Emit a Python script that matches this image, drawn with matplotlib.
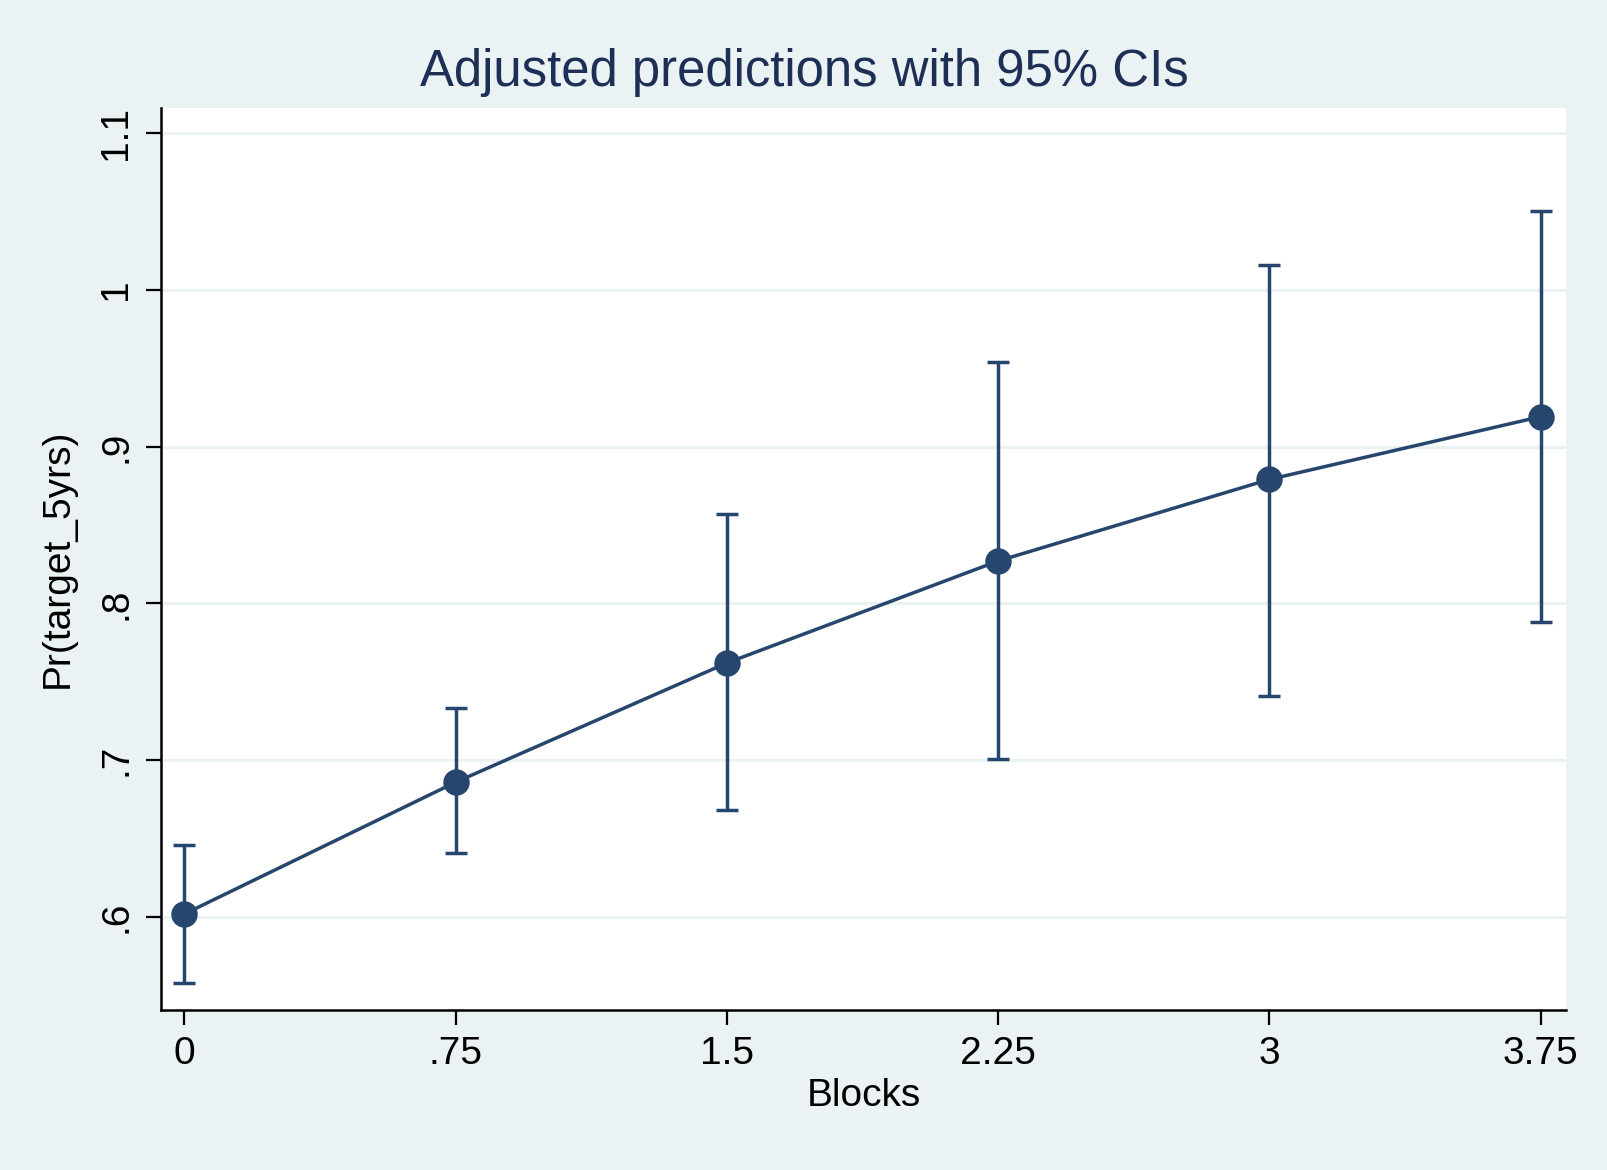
import matplotlib
matplotlib.use('Agg')
import matplotlib.pyplot as plt

# valores (margins do Stata)
blocks = [0, 0.75, 1.5, 2.25, 3, 3.75]
pred = [0.602, 0.686, 0.762, 0.827, 0.879, 0.919]
ci_low = [0.558, 0.641, 0.668, 0.701, 0.741, 0.788]
ci_high = [0.646, 0.733, 0.857, 0.954, 1.016, 1.050]

xticks = [0, 0.75, 1.5, 2.25, 3, 3.75]
xtick_labels = ['0', '.75', '1.5', '2.25', '3', '3.75']
yticks = [0.6, 0.7, 0.8, 0.9, 1.0, 1.1]
ytick_labels = ['.6', '.7', '.8', '.9', '1', '1.1']

BG = '#EAF2F3'
NAVY = '#26466D'
TITLE = '#1E2F55'

plt.rcParams['font.family'] = ['Liberation Sans', 'DejaVu Sans']

fig = plt.figure(figsize=(8.04, 5.85), dpi=200, facecolor=BG)
ax = fig.add_axes([0.100, 0.137, 0.874, 0.771])
ax.set_facecolor('white')

for y in yticks:
    ax.axhline(y, color=BG, lw=1.1, zorder=0)

err_low = [p - l for p, l in zip(pred, ci_low)]
err_high = [h - p for p, h in zip(pred, ci_high)]
ax.errorbar(blocks, pred, yerr=[err_low, err_high], fmt='none',
            ecolor=NAVY, elinewidth=1.25, capsize=3.8, capthick=1.25, zorder=2)
ax.plot(blocks, pred, color=NAVY, lw=1.25, marker='o', ms=8.5,
        markerfacecolor=NAVY, markeredgecolor=NAVY, zorder=3)

ax.set_xlim(-0.065, 3.821)
ax.set_ylim(0.541, 1.116)

ax.set_xticks(xticks)
ax.set_xticklabels(xtick_labels, fontsize=14)
ax.set_yticks(yticks)
ax.set_yticklabels(ytick_labels, fontsize=14, rotation=90, va='center')
ax.tick_params(length=5.5, width=0.8, color='black', pad=4)

for side in ['top', 'right']:
    ax.spines[side].set_visible(False)
for side in ['left', 'bottom']:
    ax.spines[side].set_linewidth(0.9)

ax.set_xlabel('Blocks', fontsize=14, labelpad=2)
ax.set_ylabel('Pr(target_5yrs)', fontsize=14, labelpad=8)
# título centralizado na figura, como no Stata
fig.text(0.5, 0.938, 'Adjusted predictions with 95% CIs', fontsize=18.3,
         color=TITLE, ha='center', va='center')

fig.savefig('out.png', dpi=200, facecolor=BG)
